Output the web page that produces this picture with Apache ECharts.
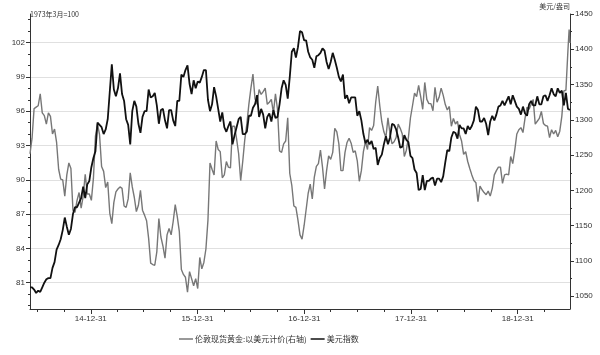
<!DOCTYPE html>
<html><head><meta charset="utf-8">
<script src="https://cdn.jsdelivr.net/npm/echarts@6/dist/echarts.min.js"></script>
<style>html,body{margin:0;padding:0;background:#fff}#c{width:600px;height:355px}</style>
</head><body><div id="c"></div>
<script>
// Weekly (Friday) observation dates
const dates2014 = ['2014-06-06','2014-06-13','2014-06-20','2014-06-27','2014-07-04','2014-07-11','2014-07-18','2014-07-25','2014-08-01','2014-08-08','2014-08-15','2014-08-22','2014-08-29','2014-09-05','2014-09-12','2014-09-19','2014-09-26','2014-10-03','2014-10-10','2014-10-17','2014-10-24','2014-10-31','2014-11-07','2014-11-14','2014-11-21','2014-11-28','2014-12-05','2014-12-12','2014-12-19','2014-12-26'];
const dates2015 = ['2015-01-02','2015-01-09','2015-01-16','2015-01-23','2015-01-30','2015-02-06','2015-02-13','2015-02-20','2015-02-27','2015-03-06','2015-03-13','2015-03-20','2015-03-27','2015-04-03','2015-04-10','2015-04-17','2015-04-24','2015-05-01','2015-05-08','2015-05-15','2015-05-22','2015-05-29','2015-06-05','2015-06-12','2015-06-19','2015-06-26','2015-07-03','2015-07-10','2015-07-17','2015-07-24','2015-07-31','2015-08-07','2015-08-14','2015-08-21','2015-08-28','2015-09-04','2015-09-11','2015-09-18','2015-09-25','2015-10-02','2015-10-09','2015-10-16','2015-10-23','2015-10-30','2015-11-06','2015-11-13','2015-11-20','2015-11-27','2015-12-04','2015-12-11','2015-12-18','2015-12-25'];
const dates2016 = ['2016-01-01','2016-01-08','2016-01-15','2016-01-22','2016-01-29','2016-02-05','2016-02-12','2016-02-19','2016-02-26','2016-03-04','2016-03-11','2016-03-18','2016-03-25','2016-04-01','2016-04-08','2016-04-15','2016-04-22','2016-04-29','2016-05-06','2016-05-13','2016-05-20','2016-05-27','2016-06-03','2016-06-10','2016-06-17','2016-06-24','2016-07-01','2016-07-08','2016-07-15','2016-07-22','2016-07-29','2016-08-05','2016-08-12','2016-08-19','2016-08-26','2016-09-02','2016-09-09','2016-09-16','2016-09-23','2016-09-30','2016-10-07','2016-10-14','2016-10-21','2016-10-28','2016-11-04','2016-11-11','2016-11-18','2016-11-25','2016-12-02','2016-12-09','2016-12-16','2016-12-23','2016-12-30'];
const dates2017 = ['2017-01-06','2017-01-13','2017-01-20','2017-01-27','2017-02-03','2017-02-10','2017-02-17','2017-02-24','2017-03-03','2017-03-10','2017-03-17','2017-03-24','2017-03-31','2017-04-07','2017-04-14','2017-04-21','2017-04-28','2017-05-05','2017-05-12','2017-05-19','2017-05-26','2017-06-02','2017-06-09','2017-06-16','2017-06-23','2017-06-30','2017-07-07','2017-07-14','2017-07-21','2017-07-28','2017-08-04','2017-08-11','2017-08-18','2017-08-25','2017-09-01','2017-09-08','2017-09-15','2017-09-22','2017-09-29','2017-10-06','2017-10-13','2017-10-20','2017-10-27','2017-11-03','2017-11-10','2017-11-17','2017-11-24','2017-12-01','2017-12-08','2017-12-15','2017-12-22','2017-12-29'];
const dates2018 = ['2018-01-05','2018-01-12','2018-01-19','2018-01-26','2018-02-02','2018-02-09','2018-02-16','2018-02-23','2018-03-02','2018-03-09','2018-03-16','2018-03-23','2018-03-30','2018-04-06','2018-04-13','2018-04-20','2018-04-27','2018-05-04','2018-05-11','2018-05-18','2018-05-25','2018-06-01','2018-06-08','2018-06-15','2018-06-22','2018-06-29','2018-07-06','2018-07-13','2018-07-20','2018-07-27','2018-08-03','2018-08-10','2018-08-17','2018-08-24','2018-08-31','2018-09-07','2018-09-14','2018-09-21','2018-09-28','2018-10-05','2018-10-12','2018-10-19','2018-10-26','2018-11-02','2018-11-09','2018-11-16','2018-11-23','2018-11-30','2018-12-07','2018-12-14','2018-12-21','2018-12-28'];
const dates2019 = ['2019-01-04','2019-01-11','2019-01-18','2019-01-25','2019-02-01','2019-02-08','2019-02-15','2019-02-22','2019-03-01','2019-03-08','2019-03-15','2019-03-22','2019-03-29','2019-04-05','2019-04-12','2019-04-19','2019-04-26','2019-05-03','2019-05-10','2019-05-17','2019-05-24','2019-05-31','2019-06-07','2019-06-14','2019-06-21','2019-06-25','2019-06-28'];

// 美元指数 (left axis, 1973年3月=100)
const dxy2014 = [80.6,80.6,80.4,80.1,80.3,80.2,80.6,81.0,81.3,81.4,81.4,82.3,82.8,83.9,84.3,84.8,85.6,86.7,85.9,85.2,85.7,87.0,87.6,87.6,88.0,88.4,89.4,88.4,89.6,89.9];
const dxy2015 = [91.1,91.9,92.5,95.0,94.8,94.6,94.0,94.4,95.3,97.7,100.1,97.9,97.3,98.0,99.3,97.5,96.9,95.3,94.8,93.1,96.0,96.9,96.4,94.9,94.1,95.5,96.0,96.0,97.9,97.2,97.3,97.6,96.5,94.9,96.1,96.2,95.2,94.5,96.1,96.1,95.2,94.7,96.9,96.9,99.2,99.0,99.6,100.0,98.4,97.5,98.7,98.0];
const dxy2016 = [98.6,98.5,99.0,99.6,99.6,97.0,96.0,96.6,98.1,97.3,96.2,95.1,95.9,94.6,94.2,94.7,95.1,93.1,93.9,94.6,95.3,95.5,94.0,94.0,94.2,95.6,95.6,96.3,96.6,97.4,95.5,96.2,95.7,94.5,95.5,95.8,95.1,96.1,95.4,95.5,96.6,98.0,98.7,98.3,97.1,99.0,101.2,101.5,100.7,101.6,103.0,102.9,102.2];
const dxy2017 = [102.2,101.2,100.7,100.5,99.8,100.8,100.9,101.1,101.5,101.3,100.3,99.7,100.3,101.1,100.5,99.8,99.0,98.6,99.2,97.1,97.4,96.7,97.2,97.2,97.2,95.6,96.0,95.2,94.0,93.2,93.5,93.1,93.4,92.7,92.8,91.3,91.9,92.2,93.1,93.8,93.1,93.7,94.9,94.8,94.4,93.7,92.8,92.9,93.9,93.5,93.3,92.1];
const dxy2018 = [91.9,90.9,90.6,89.1,89.2,90.4,89.1,89.9,89.9,90.1,90.2,89.5,90.1,90.1,89.8,90.3,91.5,92.6,92.5,93.7,94.2,94.1,93.6,94.8,94.5,94.5,94.0,94.7,94.4,94.7,95.2,96.4,96.1,95.1,95.1,95.4,94.9,93.9,95.1,95.6,95.2,95.7,96.4,96.5,96.9,96.5,96.9,97.3,96.6,97.4,96.9,96.4];
const dxy2019 = [96.2,95.7,96.4,95.8,95.6,96.6,96.9,96.5,96.5,97.3,96.6,96.6,97.3,97.4,96.9,97.4,98.0,97.5,97.3,98.0,97.6,97.8,96.5,97.6,96.2,96.2,96.1];

// 伦敦现货黄金:以美元计价 (right axis, 美元/盎司)
const gold2014 = [1252,1274,1316,1318,1320,1337,1310,1306,1294,1310,1305,1280,1287,1268,1230,1216,1215,1192,1222,1239,1231,1172,1169,1186,1197,1175,1192,1223,1195,1195];
const gold2015 = [1186,1217,1277,1294,1279,1234,1227,1204,1212,1168,1153,1183,1198,1202,1205,1203,1178,1176,1188,1225,1205,1190,1170,1179,1200,1172,1165,1157,1132,1097,1095,1094,1113,1160,1134,1121,1104,1137,1146,1137,1156,1180,1163,1142,1088,1081,1077,1056,1085,1075,1065,1075];
const gold2016 = [1061,1105,1089,1098,1117,1158,1239,1230,1222,1270,1258,1255,1218,1222,1241,1233,1232,1291,1291,1273,1252,1214,1241,1272,1294,1322,1345,1365,1330,1322,1343,1336,1340,1345,1322,1325,1329,1310,1337,1315,1256,1254,1266,1270,1303,1224,1207,1178,1176,1158,1137,1131,1150];
const gold2017 = [1173,1196,1209,1188,1219,1234,1238,1257,1233,1202,1228,1249,1244,1254,1288,1283,1266,1228,1228,1254,1268,1274,1267,1254,1256,1242,1213,1228,1255,1269,1258,1289,1285,1292,1325,1348,1320,1297,1283,1275,1303,1280,1266,1269,1275,1294,1288,1280,1248,1257,1275,1303];
const gold2018 = [1320,1338,1333,1349,1333,1315,1353,1329,1323,1323,1313,1346,1325,1332,1345,1335,1322,1314,1319,1291,1302,1294,1298,1279,1270,1251,1255,1241,1231,1222,1214,1211,1184,1206,1201,1197,1194,1199,1192,1203,1222,1228,1233,1233,1210,1222,1223,1222,1248,1238,1257,1280];
const gold2019 = [1286,1289,1282,1302,1318,1315,1322,1329,1294,1298,1302,1312,1295,1292,1291,1275,1286,1280,1285,1276,1284,1305,1341,1342,1399,1428,1409];

// Axis ticks and labels
const leftTicks = [81,84,87,90,93,96,99,102];
const leftMinor = [79,80,82,83,85,86,88,89,91,92,94,95,97,98,100,101,103,104];
const rightTicks = [1050,1100,1150,1200,1250,1300,1350,1400,1450];
const rightMinor = [1075,1125,1175,1225,1275,1325,1375,1425];
const xLabels = ['2014-12-31','2015-12-31','2016-12-31','2017-12-31','2018-12-31'];
const xMinor = ['2014-06-30','2014-09-30','2015-03-31','2015-06-30','2015-09-30','2016-03-31','2016-06-30','2016-09-30','2017-03-31','2017-06-30','2017-09-30','2018-03-31','2018-06-30','2018-09-30','2019-03-31'];

const ts = s => Date.parse(s + 'T00:00:00Z');
const dates = [].concat(dates2014,dates2015,dates2016,dates2017,dates2018,dates2019);
const dxy = [].concat(dxy2014,dxy2015,dxy2016,dxy2017,dxy2018,dxy2019);
const gold = [].concat(gold2014,gold2015,gold2016,gold2017,gold2018,gold2019);

const ink = '#333';
const numFont = 'Liberation Sans';
const cjkFont = 'Noto Sans CJK SC';
function pad(n){return (n<10?'0':'')+n;}
function fmtDate(v){const d=new Date(v);return pad(d.getUTCFullYear()%100)+'-'+pad(d.getUTCMonth()+1)+'-'+pad(d.getUTCDate());}

const chart = echarts.init(document.getElementById('c'), null, {renderer:'canvas'});
const xMin = ts('2014-06-06'), xMax = ts('2019-06-28');
chart.setOption({
  animation:false,
  backgroundColor:'#fff',
  grid: {left:30, right:30, top:14, bottom:46},
  legend: {
    left:174, top:330, itemWidth:14, itemHeight:1.5, itemGap:4, icon:'rect',
    textStyle:{fontSize:8, color:ink, fontFamily:cjkFont, padding:[0,0,0,-3]},
    data:['伦敦现货黄金:以美元计价(右轴)','美元指数']
  },
  xAxis: [
    {type:'value', min:xMin, max:xMax,
     axisLine:{lineStyle:{color:ink, width:1}},
     axisTick:{customValues:xLabels.map(ts), length:5, lineStyle:{color:ink}},
     axisLabel:{customValues:xLabels.map(ts), formatter:fmtDate, fontSize:8, color:ink, fontFamily:numFont, margin:6},
     splitLine:{show:false}},
    {type:'value', min:xMin, max:xMax, position:'bottom',
     axisLine:{show:false},
     axisTick:{customValues:xMinor.map(ts), length:3, lineStyle:{color:ink}},
     axisLabel:{show:false}, splitLine:{show:false}}
  ],
  yAxis: [
    {type:'value', position:'left', min:78.7, max:104.5,
     name:'1973年3月=100', nameLocation:'end', nameGap:0,
     nameTextStyle:{fontSize:7, color:ink, fontFamily:cjkFont, align:'left', verticalAlign:'middle'},
     axisLine:{show:true, lineStyle:{color:ink}},
     axisTick:{customValues:leftTicks, length:4, lineStyle:{color:ink}},
     axisLabel:{customValues:leftTicks, fontSize:8, color:ink, fontFamily:numFont, margin:5},
     splitLine:{show:true, lineStyle:{color:'#e0e0e0', width:1.2}}},
    {type:'value', position:'right', min:1032, max:1450,
     name:'美元/盎司', nameLocation:'end', nameGap:0,
     nameTextStyle:{fontSize:7, color:ink, fontFamily:cjkFont, align:'right', verticalAlign:'middle'},
     axisLine:{show:true, lineStyle:{color:ink}},
     axisTick:{customValues:rightTicks, length:4, lineStyle:{color:ink}},
     axisLabel:{customValues:rightTicks, formatter:v=>String(v), fontSize:8, color:ink, fontFamily:numFont, margin:5},
     splitLine:{show:false}},
    {type:'value', position:'left', min:78.7, max:104.5,
     axisLine:{show:false}, axisTick:{customValues:leftMinor, length:2, lineStyle:{color:ink}},
     axisLabel:{show:false}, splitLine:{show:false}},
    {type:'value', position:'right', min:1032, max:1450,
     axisLine:{show:false}, axisTick:{customValues:rightMinor, length:2, lineStyle:{color:ink}},
     axisLabel:{show:false}, splitLine:{show:false}}
  ],
  series: [
    {name:'伦敦现货黄金:以美元计价(右轴)', type:'line', xAxisIndex:0, yAxisIndex:1,
     data: dates.map((d,i)=>[ts(d), gold[i]]), showSymbol:false, symbol:'none',
     lineStyle:{color:'#777', width:1.4}, itemStyle:{color:'#777'}},
    {name:'美元指数', type:'line', xAxisIndex:0, yAxisIndex:0,
     data: dates.map((d,i)=>[ts(d), dxy[i]]), showSymbol:false, symbol:'none',
     lineStyle:{color:'#111', width:1.8}, itemStyle:{color:'#111'}}
  ]
});
</script></body></html>
